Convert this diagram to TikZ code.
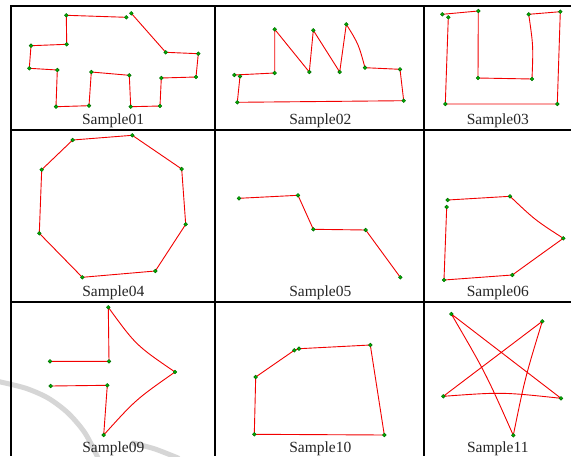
\documentclass[tikz,border=0pt]{standalone}
\usepackage{fontspec}
\setmainfont{Liberation Serif}
\begin{document}
\begin{tikzpicture}[x=1pt,y=-1pt,
  stroke/.style={draw=red!95!black,line width=0.9pt,line join=round},
  dot/.style={circle,inner sep=0pt,minimum size=3.6pt,draw=green!45!black,fill=green!70!black,line width=0.6pt},
  grid/.style={line width=2pt,black},
  lbl/.style={anchor=base,font=\fontsize{15.5}{18}\selectfont,text=black!85,inner sep=0pt},
  wm/.style={line width=5pt,black!16,line cap=round}]
\useasboundingbox (0,0) rectangle (571,456);
\fill[white] (0,0) rectangle (571,456);
% watermark arcs
\draw[wm] plot[smooth] coordinates {(-4,381) (25,388) (48,398) (68,413) (85,433) (98,458)};
\draw[wm] plot[smooth] coordinates {(133,443) (155,449) (178,458)};
% table grid
\draw[grid] (10,6) -- (571,6);
\draw[grid] (11,5) -- (11,456);
\draw[grid] (215,6) -- (215,456);
\draw[grid] (424,6) -- (424,456);
\draw[grid] (11,129.5) -- (571,129.5);
\draw[grid] (11,302) -- (571,302);
% ---------- Sample01
\coordinate (a1) at (131.3,13.3);
\coordinate (a2) at (165.7,52.3);
\coordinate (a3) at (198.3,53.7);
\coordinate (a4) at (196,77);
\coordinate (a5) at (161.3,78);
\coordinate (a6) at (160,106);
\coordinate (a7) at (130.7,106.7);
\coordinate (a8) at (129.3,75.3);
\coordinate (a9) at (91.3,72);
\coordinate (a10) at (89,105.7);
\coordinate (a11) at (56,106.7);
\coordinate (a12) at (57.3,70);
\coordinate (a13) at (29.3,68.3);
\coordinate (a14) at (31,45.7);
\coordinate (a15) at (66.7,44.3);
\coordinate (a16) at (66.3,15.3);
\coordinate (a17) at (126.3,17.3);
\draw[stroke] (a1) -- (a2) -- (a3) -- (a4) -- (a5) -- (a6) -- (a7) -- (a8) -- (a9) -- (a10) -- (a11) -- (a12) -- (a13) -- (a14) -- (a15) -- (a16) -- (a17);
\foreach \p in {a1,a2,a3,a4,a5,a6,a7,a8,a9,a10,a11,a12,a13,a14,a15,a16,a17} \node[dot] at (\p) {};
\node[lbl] (l1) at (113,124) {Sample01};
% ---------- Sample02
\coordinate (b1) at (234.3,75);
\coordinate (b2) at (274.7,73);
\coordinate (b3) at (274.7,29.3);
\coordinate (b4) at (309.3,72);
\coordinate (b5) at (313.3,30.3);
\coordinate (b6) at (339.7,72);
\coordinate (b7) at (346.3,24.3);
\coordinate (b8) at (365,67.7);
\coordinate (b9) at (400,69.3);
\coordinate (b10) at (403.7,100.7);
\coordinate (b11) at (237.3,102.3);
\coordinate (b12) at (240,76.3);
\draw[stroke] (b1) -- (b2) -- (b3) -- (b4) -- (b5) -- (b6) -- (b7) .. controls (358.5,44) .. (b8) -- (b9) -- (b10) -- (b11) -- (b12);
\foreach \p in {b1,b2,b3,b4,b5,b6,b7,b8,b9,b10,b11,b12} \node[dot] at (\p) {};
\node[lbl] (l2) at (320.3,124) {Sample02};
% ---------- Sample03
\coordinate (c1) at (442.3,14.3);
\coordinate (c2) at (478.3,11);
\coordinate (c3) at (478,78);
\coordinate (c4) at (532,79);
\coordinate (c5) at (528.7,14.3);
\coordinate (c6) at (560.3,11.7);
\coordinate (c7) at (557.3,104);
\coordinate (c8) at (445.3,104);
\coordinate (c9) at (448.3,17.3);
\draw[stroke] (c1) -- (c2) -- (c3) -- (c4) .. controls (533.3,46) .. (c5) -- (c6) -- (c7) -- (c8) -- (c9);
\foreach \p in {c1,c2,c3,c4,c5,c6,c7,c8,c9} \node[dot] at (\p) {};
\node[lbl] (l3) at (497.8,124) {Sample03};
% ---------- Sample04
\coordinate (d1) at (72.7,140);
\coordinate (d2) at (132.3,135.3);
\coordinate (d3) at (181.7,169);
\coordinate (d4) at (185.7,224.3);
\coordinate (d5) at (155.3,271);
\coordinate (d6) at (82.3,277.3);
\coordinate (d7) at (39.3,233.3);
\coordinate (d8) at (41.7,169.7);
\draw[stroke] (d1) -- (d2) -- (d3) -- (d4) -- (d5) -- (d6) -- (d7) -- (d8) -- cycle;
\foreach \p in {d1,d2,d3,d4,d5,d6,d7,d8} \node[dot] at (\p) {};
\node[lbl] (l4) at (113.3,296.3) {Sample04};
% ---------- Sample05
\coordinate (e1) at (239,198.3);
\coordinate (e2) at (298,195.3);
\coordinate (e3) at (313.3,229.3);
\coordinate (e4) at (365.7,230);
\coordinate (e5) at (400.3,277.3);
\draw[stroke] (e1) -- (e2) -- (e3) -- (e4) -- (e5);
\foreach \p in {e1,e2,e3,e4,e5} \node[dot] at (\p) {};
\node[lbl] (l5) at (320.3,296.3) {Sample05};
% ---------- Sample06
\coordinate (f1) at (447.7,200);
\coordinate (f2) at (510,196.3);
\coordinate (f3) at (563.3,238.3);
\coordinate (f4) at (512.3,275);
\coordinate (f5) at (444,280);
\coordinate (f6) at (446.7,207);
\draw[stroke] (f1) -- (f2) .. controls (535,220) .. (f3) .. controls (540,255) .. (f4) -- (f5) -- (f6);
\foreach \p in {f1,f2,f3,f4,f5,f6} \node[dot] at (\p) {};
\node[lbl] (l6) at (497.8,296.3) {Sample06};
% ---------- Sample09
\coordinate (g1) at (50,361.3);
\coordinate (g2) at (109,361.3);
\coordinate (g3) at (108.3,307.3);
\coordinate (g4) at (175,372);
\coordinate (g5) at (103.7,435);
\coordinate (g6) at (107.3,385.3);
\coordinate (g7) at (50.7,386);
\draw[stroke] (g1) -- (g2) -- (g3) .. controls (136,345.3) .. (g4) .. controls (135.8,399.5) .. (g5) -- (g6) -- (g7);
\foreach \p in {g1,g2,g3,g4,g5,g6,g7} \node[dot] at (\p) {};
\node[lbl] (l9) at (113.3,452) {Sample09};
% ---------- Sample10
\coordinate (h1) at (254.3,434.3);
\coordinate (h2) at (255.7,377);
\coordinate (h3) at (294.3,350.3);
\coordinate (h4) at (299,348.7);
\coordinate (h5) at (370.3,345);
\coordinate (h6) at (384.3,435);
\draw[stroke] (h1) -- (h2) -- (h3) -- (h4) -- (h5) -- (h6) -- cycle;
\foreach \p in {h1,h2,h3,h4,h5,h6} \node[dot] at (\p) {};
\node[lbl] (l10) at (320.3,452) {Sample10};
% ---------- Sample11
\coordinate (k1) at (451.3,314);
\coordinate (k2) at (561,398.3);
\coordinate (k3) at (443.3,396.3);
\coordinate (k4) at (542.3,321.3);
\coordinate (k5) at (513.3,435.3);
\draw[stroke] (k1) -- (k2) .. controls (502,392) .. (k3) -- (k4) .. controls (525,378) .. (k5) .. controls (485.5,372.7) .. (k1);
\foreach \p in {k1,k2,k3,k4,k5} \node[dot] at (\p) {};
\node[lbl] (l11) at (497.8,452) {Sample11};
\end{tikzpicture}
\end{document}
